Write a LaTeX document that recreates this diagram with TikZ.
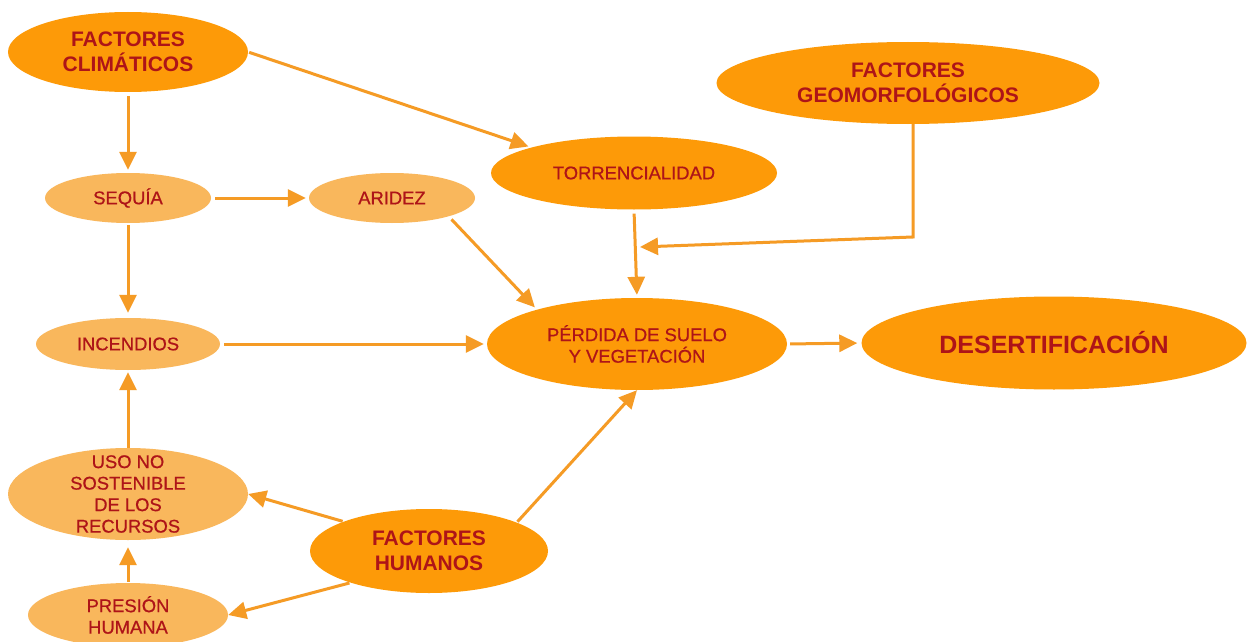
\documentclass[tikz,border=0pt]{standalone}
\usepackage{fontspec}
\setmainfont{Liberation Sans}
\newfontfamily\medfont[FakeBold=0.7]{Liberation Sans}
\usetikzlibrary{shapes.geometric,arrows.meta}
\definecolor{dk}{HTML}{FD9A08}
\definecolor{lt}{HTML}{F9B75C}
\definecolor{arw}{HTML}{F59B25}
\definecolor{txt}{HTML}{AE1418}
\tikzset{
 ell/.style={ellipse, inner sep=0pt, align=center, text=txt},
 dark/.style={ell, fill=dk},
 light/.style={ell, fill=lt},
 big/.style={font=\fontsize{21}{25}\selectfont\bfseries},
 small/.style={font=\medfont\fontsize{18.4}{21.5}\selectfont},
 arr/.style={draw=arw, line width=3pt, -{Triangle[length=18pt,width=17pt]}, shorten >=3pt, shorten <=4pt},
}
\begin{document}
\begin{tikzpicture}[x=1pt,y=-1pt]
\useasboundingbox (0,0) rectangle (1251,642);
\clip (0,0) rectangle (1251,642);
\fill[white] (0,0) rectangle (1251,642);
\node[dark,big,minimum width=240pt,minimum height=80pt] (clim) at (128,52) {FACTORES\\CLIMÁTICOS};
\node[dark,big,minimum width=383pt,minimum height=82pt] (geo) at (908,83) {FACTORES\\GEOMORFOLÓGICOS};
\node[dark,small,minimum width=286pt,minimum height=73pt] (torr) at (634,173) {TORRENCIALIDAD};
\node[light,small,minimum width=166pt,minimum height=50pt] (seq) at (128,198) {SEQUÍA};
\node[light,small,minimum width=166pt,minimum height=50pt] (ari) at (392,198) {ARIDEZ};
\node[light,small,minimum width=184pt,minimum height=52pt] (inc) at (128,344) {INCENDIOS};
\node[dark,small,minimum width=300pt,minimum height=92pt] (per) at (637,344) {PÉRDIDA DE SUELO\\Y VEGETACIÓN};
\node[dark,minimum width=385pt,minimum height=93pt,font=\fontsize{25}{30}\selectfont\bfseries] (des) at (1054,343) {DESERTIFICACIÓN};
\node[light,small,inner ysep=-16pt,minimum width=240pt,minimum height=92pt] (uso) at (128,494) {USO NO\\SOSTENIBLE\\DE LOS\\RECURSOS};
\node[dark,big,minimum width=238pt,minimum height=84pt] (hum) at (429,551) {FACTORES\\HUMANOS};
\node[light,small,minimum width=200pt,minimum height=64pt] (pre) at (128,615) {PRESIÓN\\HUMANA};
\coordinate (gcorner) at (913,237);
\coordinate (gend) at (640,247);
% connectors
\draw[arr] (clim.south) -- (seq.north);
\draw[arr,shorten <=1pt] (clim.east) -- (torr.166);
\draw[arr] (seq.east) -- (ari.west);
\draw[arr] (ari.-18) -- (per.161);
\draw[arr] (torr.south) -- (per.north);
\draw[arr,shorten >=0pt,shorten <=0pt] ([xshift=5pt]geo.south) -- (gcorner) -- (gend);
\draw[arr] (inc.east) -- (per.west);
\draw[arr,shorten >=5pt,shorten <=2pt] (seq.south) -- (inc.north);
\draw[arr,shorten >=2pt,shorten <=0pt] (uso.north) -- (inc.south);
\draw[arr,shorten >=7pt,shorten <=1pt] (pre.north) -- (uso.south);
\draw[arr,shorten >=0pt,shorten <=1pt] (hum.161) -- (uso.east);
\draw[arr,shorten >=0pt,shorten <=1pt] (hum.202) -- (pre.east);
\draw[arr,shorten >=0pt,shorten <=1pt] (hum.18) -- (per.south);
\draw[arr,shorten >=4pt,shorten <=3pt] (per.east) -- (des.west);
\end{tikzpicture}
\end{document}
